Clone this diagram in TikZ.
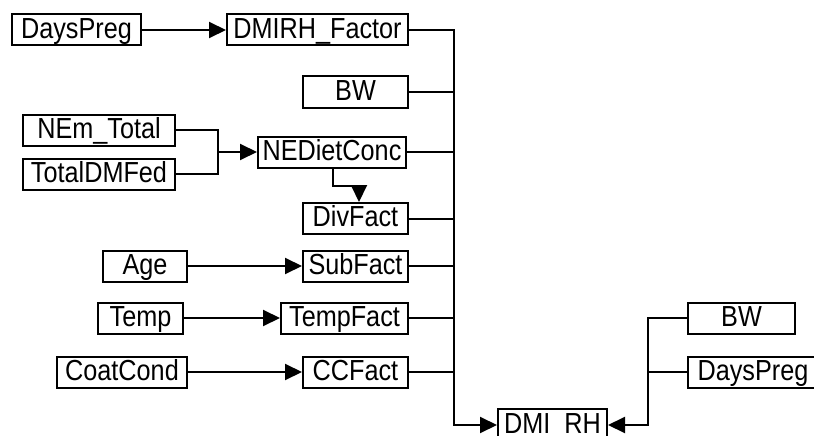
\documentclass[tikz,border=0pt]{standalone}
\usepackage{fontspec}
\setmainfont{Liberation Sans}
\newfontfamily\boxfont[FakeStretch=0.87]{Liberation Sans}
\usetikzlibrary{arrows.meta}
\begin{document}
\begin{tikzpicture}[x=1pt,y=-1pt,
  blk/.style={draw, line width=2pt, inner sep=0pt, minimum height=31pt,
              text height=21pt, text depth=4.5pt,
              font=\boxfont\fontsize{29}{30}\selectfont},
  link/.style={line width=2pt},
  feed/.style={line width=2pt, -{Triangle[length=17pt,width=16pt]}}]
\useasboundingbox (0,0) rectangle (814,436);
\clip (0,0) rectangle (814,436);

% left-hand inputs
\node[blk, minimum width=129pt] (dp1)  at (76.5,30)  {DaysPreg};
\node[blk, minimum width=152pt] (nem)  at (99,130)   {NEm\_Total};
\node[blk, minimum width=152pt] (tdm)  at (99,174)   {TotalDMFed};
\node[blk, minimum width=84pt]  (age)  at (145,266)  {Age};
\node[blk, minimum width=85pt]  (temp) at (140.5,318) {Temp};
\node[blk, minimum width=130pt] (coat) at (122,372)  {CoatCond};

% intermediate factors
\node[blk, minimum width=181pt] (dmirhf) at (317.5,30)  {DMIRH\_Factor};
\node[blk, minimum width=105pt] (bw1)    at (355.5,92)  {BW};
\node[blk, minimum width=148pt] (nedc)   at (332,152)   {NEDietConc};
\node[blk, minimum width=105pt] (divf)   at (355.5,218.5) {DivFact};
\node[blk, minimum width=105pt] (subf)   at (355.5,266) {SubFact};
\node[blk, minimum width=127pt] (tempf)  at (344.5,318) {TempFact};
\node[blk, minimum width=105pt] (ccf)    at (355.5,372) {CCFact};

% output and its direct inputs
\node[blk, minimum width=109pt, minimum height=32pt] (dmirh) at (552.5,425) {DMI\_RH};
\node[blk, minimum width=107pt] (bw2) at (741.5,318) {BW};
\node[blk, minimum width=130pt] (dp2) at (753,372)   {DaysPreg};

% junction points
\coordinate (jr) at (454,30);
\coordinate (jn) at (218,152);
\coordinate (k1) at (333,186);
\coordinate (k2) at (359,186);
\coordinate (jl) at (648,372);

% simple feeds
\draw[feed] (dp1.east) -- (dmirhf.west);
\draw[feed] (age.east) -- (subf.west);
\draw[feed] (temp.east) -- (tempf.west);
\draw[feed] (coat.east) -- (ccf.west);

% NEm_Total and TotalDMFed merge into NEDietConc
\draw[link] (nem.east) -| (jn);
\draw[link] (tdm.east) -| (jn);
\draw[feed] (jn) -- (nedc.west);

% NEDietConc feeds DivFact
\draw[feed] (nedc.south -| k1) -- (k1) -- (k2) -- (k2 |- divf.north);

% collecting bus into DMI_RH
\draw[feed] (dmirhf.east) -- (jr) |- (dmirh.west);
\foreach \n in {bw1,nedc,divf,subf,tempf,ccf}
  \draw[link] (\n.east) -- (\n.east -| jr);

% right-hand inputs into DMI_RH
\draw[feed] (bw2.west) -| (jl |- dmirh.east) -- (dmirh.east);
\draw[link] (dp2.west) -- (jl);
\end{tikzpicture}
\end{document}
